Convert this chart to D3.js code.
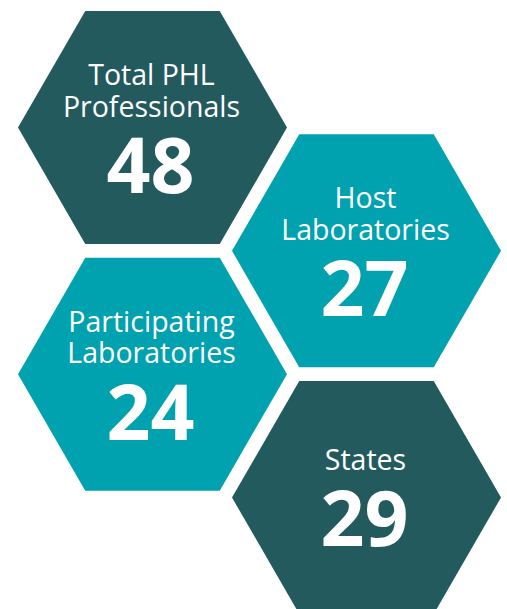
<!DOCTYPE html>
<html>
<head>
<meta charset="utf-8">
<script src="https://cdn.jsdelivr.net/npm/d3@7"></script>
<style>
  body { margin: 0; background: #fff; }
  svg { display: block; }
</style>
</head>
<body>
<svg id="chart" width="507" height="609"></svg>
<script>
// Dati
var labels = [["Total PHL", "Professionals"], ["Host", "Laboratories"], ["Participating", "Laboratories"], ["States"]];
var values = [48, 27, 24, 29];
var colors = ["#225a5e", "#00a2af", "#00a2af", "#225a5e"];

var width = 507, height = 609;
var svg = d3.select("#chart");

// Raggio dell'esagono (centro-vertice)
var r = 134.5;

// Scale per la posizione dei centri
var xScale = d3.scaleLinear().domain([0, 1]).range([152.5, 366.5]);
var yScale = d3.scaleLinear().domain([0, 3]).range([127.5, 497.5]);

var data = values.map(function(v, i) {
  return { value: v, label: labels[i], color: colors[i], col: i % 2, row: i };
});

function hexPoints(cx, cy) {
  var pts = [];
  for (var k = 0; k < 6; k++) {
    var a = Math.PI / 3 * k;
    pts.push([cx + r * Math.cos(a), cy + r * Math.sin(a)]);
  }
  return pts.map(function(p) { return p.join(","); }).join(" ");
}

var g = svg.selectAll("g.hex")
  .data(data)
  .enter()
  .append("g")
  .attr("class", "hex")
  .attr("transform", function(d) {
    return "translate(" + xScale(d.col) + "," + yScale(d.row) + ")";
  });

g.append("polygon")
  .attr("points", hexPoints(0, 0))
  .style("fill", function(d) { return d.color; });

// Etichette e valore in un unico testo
g.each(function(d) {
  var n = d.label.length;
  var start = n === 2 ? -42.5 : -27.5;
  var txt = d3.select(this).append("text")
    .attr("text-anchor", "middle")
    .style("font-family", "'Open Sans', sans-serif")
    .style("fill", "#fff");
  d.label.forEach(function(t, j) {
    txt.append("tspan")
      .attr("x", -1)
      .attr("y", start + j * 31.8)
      .style("font-size", "28.5px")
      .style("font-weight", 500)
      .text(t);
  });
  txt.append("tspan")
    .attr("x", -2)
    .attr("y", n === 2 ? 65.5 : 48.5)
    .style("font-weight", "bold")
    .style("font-size", "77px")
    .text(d.value);
});
</script>
</body>
</html>
